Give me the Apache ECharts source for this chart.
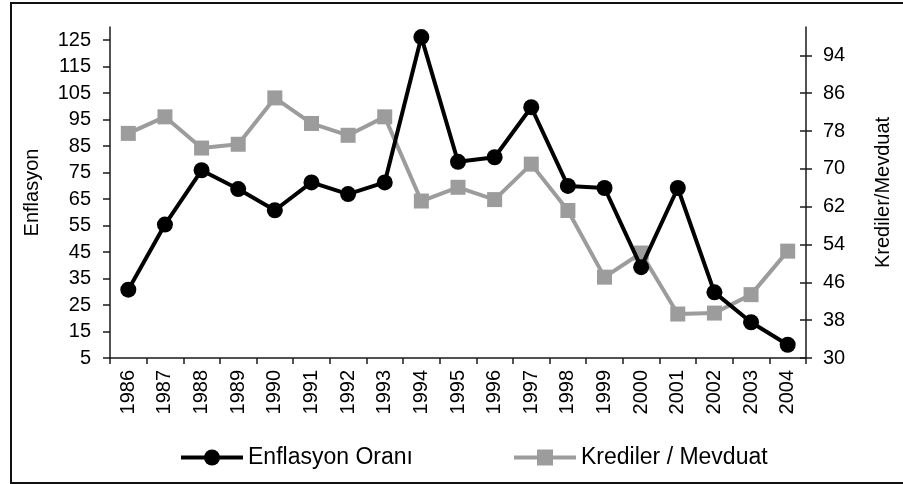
<!DOCTYPE html>
<html lang="tr">
<head>
    <meta charset="UTF-8">
    <title>Enflasyon ve Krediler/Mevduat</title>
    <script src="https://cdn.jsdelivr.net/npm/echarts@6/dist/echarts.min.js"></script>
    <style>
        html, body { margin: 0; padding: 0; background: #fff; }
        #chart { width: 903px; height: 484px; }
    </style>
</head>
<body>
    <div id="chart"></div>
    <script>
        var years = ['1986','1987','1988','1989','1990','1991','1992','1993','1994','1995',
                     '1996','1997','1998','1999','2000','2001','2002','2003','2004'];
        var enflasyon = [30.8, 55.4, 75.9, 68.8, 60.8, 71.3, 66.9, 71.3, 126.2, 79.1,
                         80.8, 99.7, 70.0, 69.2, 39.3, 69.2, 29.8, 18.5, 10.0];
        var krediMevduat = [77.5, 81.0, 74.4, 75.2, 85.0, 79.6, 77.1, 81.0, 63.2, 66.1,
                            63.5, 71.0, 61.2, 47.1, 52.2, 39.3, 39.5, 43.4, 52.6];
        var leftTicks = [5, 15, 25, 35, 45, 55, 65, 75, 85, 95, 105, 115, 125];
        var rightTicks = [30, 38, 46, 54, 62, 70, 78, 86, 94];

        var font = "'Liberation Sans', Arial, sans-serif";
        var axisLineStyle = { color: '#1a1a1a', width: 1.5 };

        var chart = echarts.init(document.getElementById('chart'));
        chart.setOption({
            animation: false,
            textStyle: { fontFamily: font },
            graphic: [{
                type: 'rect',
                shape: { x: 11, y: 3, width: 900, height: 480 },
                style: { fill: 'none', stroke: '#111', lineWidth: 2 },
                silent: true
            }],
            grid: { left: 110, right: 97, top: 27, bottom: 126 },
            legend: [{
                data: ['Enflasyon Oranı'],
                left: 174, top: 441,
                itemWidth: 62, itemHeight: 20,
                lineStyle: { width: 4 },
                textStyle: { fontSize: 23, color: '#000', fontFamily: font }
            }, {
                data: ['Krediler / Mevduat'],
                left: 507, top: 441,
                itemWidth: 62, itemHeight: 20,
                lineStyle: { width: 4 },
                textStyle: { fontSize: 23, color: '#000', fontFamily: font }
            }],
            xAxis: {
                type: 'category',
                data: years,
                boundaryGap: true,
                axisLine: { lineStyle: axisLineStyle },
                axisTick: { show: true, length: 6, lineStyle: axisLineStyle },
                axisLabel: { rotate: 90, fontSize: 20, color: '#000', margin: 12, interval: 0 },
                splitLine: { show: false }
            },
            yAxis: [{
                type: 'value',
                position: 'left',
                min: 5, max: 130,
                name: 'Enflasyon',
                nameLocation: 'middle',
                nameRotate: 90,
                nameGap: 68,
                nameTextStyle: { fontSize: 20, color: '#000' },
                axisLine: { show: true, lineStyle: axisLineStyle },
                axisTick: { show: true, length: 7, lineStyle: axisLineStyle, customValues: leftTicks },
                axisLabel: { fontSize: 20, color: '#000', margin: 19, customValues: leftTicks },
                splitLine: { show: false }
            }, {
                type: 'value',
                position: 'right',
                min: 30, max: 100,
                name: 'Krediler/Mevduat',
                nameLocation: 'middle',
                nameRotate: 90,
                nameGap: 67,
                nameTextStyle: { fontSize: 20, color: '#000' },
                axisLine: { show: true, lineStyle: axisLineStyle },
                axisTick: { show: true, length: 6, lineStyle: axisLineStyle, customValues: rightTicks },
                axisLabel: { fontSize: 20, color: '#000', margin: 17, customValues: rightTicks },
                splitLine: { show: false }
            }, {
                // inner half of the crossing ticks on the right axis
                type: 'value',
                position: 'right',
                min: 30, max: 100,
                axisLine: { show: false },
                axisTick: { show: true, inside: true, length: 6, lineStyle: axisLineStyle, customValues: rightTicks },
                axisLabel: { show: false },
                splitLine: { show: false }
            }],
            series: [{
                name: 'Enflasyon Oranı',
                type: 'line',
                yAxisIndex: 0,
                data: enflasyon,
                symbol: 'circle',
                symbolSize: 16,
                lineStyle: { color: '#000', width: 4 },
                itemStyle: { color: '#000' },
                z: 3
            }, {
                name: 'Krediler / Mevduat',
                type: 'line',
                yAxisIndex: 1,
                data: krediMevduat,
                symbol: 'rect',
                symbolSize: 15,
                lineStyle: { color: '#9c9c9c', width: 4 },
                itemStyle: { color: '#9c9c9c' },
                z: 2
            }]
        });
    </script>
</body>
</html>
